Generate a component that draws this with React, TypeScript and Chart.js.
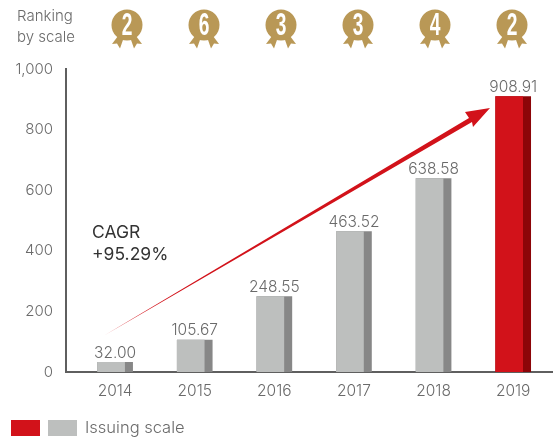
import React, { useEffect, useRef } from "react";
import { Chart, registerables } from "chart.js";

Chart.register(...registerables);

const years = [2014, 2015, 2016, 2017, 2018, 2019];
const issuingScale = [32.0, 105.67, 248.55, 463.52, 638.58, 908.91];
const valueLabels = ["32.00", "105.67", "248.55", "463.52", "638.58", "908.91"];
const rankings = ["2", "6", "3", "3", "4", "2"];
const rankingTitle = ["Ranking", "by scale"];
const cagrLines = ["CAGR", "+95.29%"];
const legendLabel = "Issuing scale";

const FONT = "Inter, 'Noto Sans', sans-serif";
const GOLD = "#b99856";
const TEXT = "#6a6a6a";
const frontColors = ["#bdbfbe", "#bdbfbe", "#bdbfbe", "#bdbfbe", "#bdbfbe", "#d2121a"];
const sideColors = ["#878787", "#878787", "#878787", "#878787", "#878787", "#8c0508"];

const medalCenters = [127, 204, 281, 358, 435, 512];

function drawMedal(ctx: CanvasRenderingContext2D, cx: number, label: string) {
  const cy = 25;
  ctx.fillStyle = GOLD;
  for (const s of [-1, 1]) {
    ctx.beginPath();
    ctx.moveTo(cx + s * 3, 37);
    ctx.lineTo(cx + s * 9, 36);
    ctx.lineTo(cx + s * 15, 44);
    ctx.lineTo(cx + s * 10, 43.5);
    ctx.lineTo(cx + s * 7, 48.5);
    ctx.closePath();
    ctx.fill();
  }
  ctx.beginPath();
  ctx.arc(cx, cy, 15.5, 0, Math.PI * 2);
  ctx.fill();
  ctx.save();
  ctx.translate(cx, cy + 1.5);
  ctx.scale(0.6, 1);
  ctx.fillStyle = "#ffffff";
  ctx.font = "bold 32px 'Liberation Sans', sans-serif";
  ctx.textAlign = "center";
  ctx.textBaseline = "middle";
  ctx.fillText(label, 0, 0);
  ctx.restore();
}

const decorations = {
  id: "decorations",
  afterDatasetsDraw(chart: any) {
    const ctx: CanvasRenderingContext2D = chart.ctx;
    ctx.save();

    // value labels, placed from the bar elements
    const back = chart.getDatasetMeta(0);
    ctx.font = `300 15.5px ${FONT}`;
    ctx.fillStyle = TEXT;
    ctx.textAlign = "center";
    ctx.textBaseline = "alphabetic";
    back.data.forEach((el: any, i: number) => {
      ctx.fillText(valueLabels[i], el.x, el.y - 4.5);
    });

    // growth arrow
    ctx.fillStyle = "#d2121a";
    ctx.beginPath();
    ctx.moveTo(105, 335);
    ctx.lineTo(469, 118);
    ctx.lineTo(465, 112);
    ctx.lineTo(490, 108);
    ctx.lineTo(473, 127);
    ctx.lineTo(472, 122);
    ctx.closePath();
    ctx.fill();

    // CAGR note
    ctx.font = `400 17.5px ${FONT}`;
    ctx.fillStyle = "#333333";
    ctx.textAlign = "left";
    ctx.fillText(cagrLines[0], 92, 238);
    ctx.fillText(cagrLines[1], 92, 260);

    // ranking header
    ctx.font = `300 15px ${FONT}`;
    ctx.fillStyle = TEXT;
    ctx.fillText(rankingTitle[0], 17, 21);
    ctx.fillText(rankingTitle[1], 17, 42);
    rankings.forEach((r, i) => drawMedal(ctx, medalCenters[i], r));

    // legend
    ctx.fillStyle = "#d2121a";
    ctx.fillRect(11, 420, 29, 16);
    ctx.fillStyle = "#bdbfbe";
    ctx.fillRect(48, 420, 29, 16);
    ctx.fillStyle = TEXT;
    ctx.font = `300 16.5px ${FONT}`;
    ctx.textAlign = "left";
    ctx.fillText(legendLabel, 85, 433);
    ctx.restore();
  },
};

const onlyYears = (axis: any) => {
  axis.ticks = years.map((value) => ({ value }));
};

export default function App() {
  const ref = useRef<HTMLCanvasElement | null>(null);

  useEffect(() => {
    document.body.style.margin = "0";
    const xMin = 2013.383;
    const xMax = 2019.5;
    const shift = 4 / 79.4;
    const chart = new Chart(ref.current!, {
      type: "bar",
      data: {
        datasets: [
          {
            label: "side",
            data: years.map((x, i) => ({ x, y: issuingScale[i] })),
            backgroundColor: sideColors,
            barThickness: 35,
            grouped: false,
            order: 2,
            xAxisID: "x",
          },
          {
            label: "Issuing scale",
            data: years.map((x, i) => ({ x, y: issuingScale[i] })),
            backgroundColor: frontColors,
            barThickness: 27,
            grouped: false,
            order: 1,
            xAxisID: "xFront",
          },
        ] as any,
      },
      options: {
        animation: false,
        responsive: false,
        layout: { padding: { top: 69, right: 0, bottom: 0, left: 0 } },
        plugins: { legend: { display: false }, tooltip: { enabled: false } },
        scales: {
          x: {
            type: "linear",
            offset: false,
            min: xMin,
            max: xMax,
            afterBuildTicks: onlyYears,
            afterFit: (s: any) => {
              s.height = 69;
            },
            grid: { display: false, drawTicks: false, offset: false },
            border: { color: "#5f5f5f", width: 2 },
            ticks: {
              autoSkip: false,
              maxRotation: 0,
              padding: 10,
              color: TEXT,
              font: { family: FONT, size: 15.5, weight: "300" },
              callback: (v: any) => String(v),
            },
          },
          xFront: {
            type: "linear",
            display: false,
            offset: false,
            min: xMin + shift,
            max: xMax + shift,
          },
          y: {
            min: 0,
            max: 1000,
            afterFit: (s: any) => {
              s.width = 66;
            },
            grid: { display: false, drawTicks: false },
            border: { color: "#5f5f5f", width: 2 },
            ticks: {
              stepSize: 200,
              padding: 13,
              color: TEXT,
              font: { family: FONT, size: 15, weight: "300" },
              callback: (v: any) => Number(v).toLocaleString("en-US"),
            },
          },
        },
      } as any,
      plugins: [decorations],
    });
    return () => chart.destroy();
  }, []);

  return <canvas ref={ref} width={553} height={441} style={{ display: "block" }} />;
}
